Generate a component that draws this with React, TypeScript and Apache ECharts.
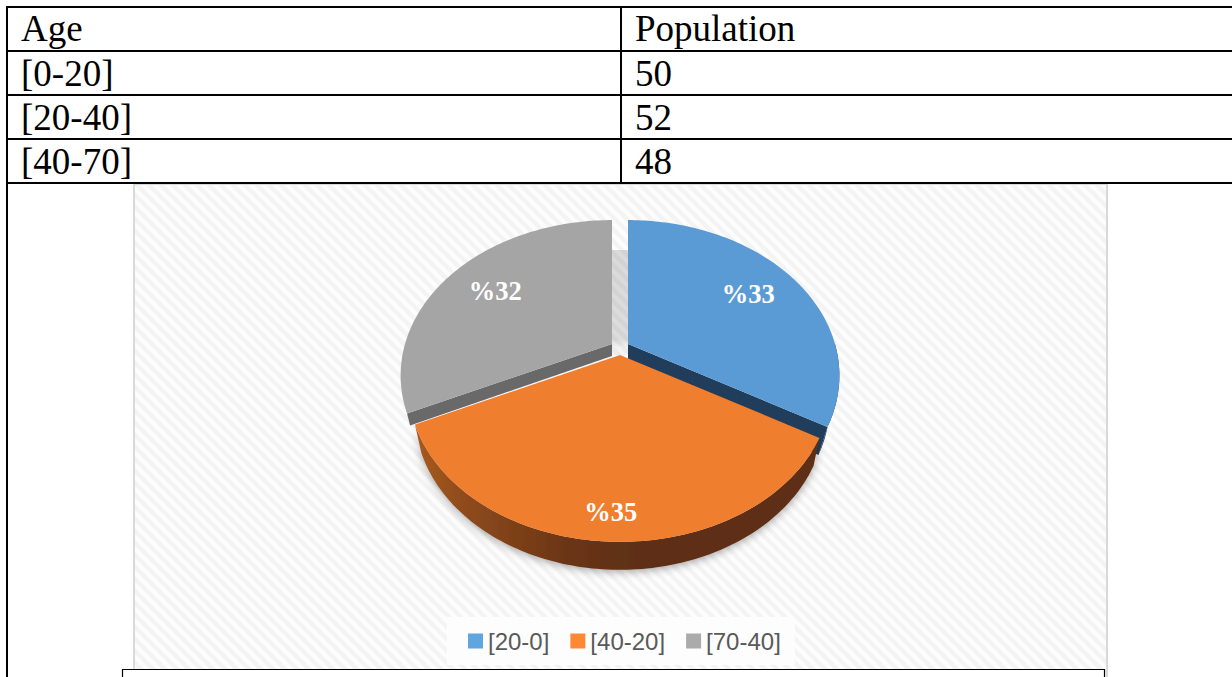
import React, { useEffect, useRef } from "react";
import * as echarts from "echarts";

const tableHeader = ["Age", "Population"];
const tableAges = ["[0-20]", "[20-40]", "[40-70]"];
const populations = [50, 52, 48];
const legendNames = ["[20-0]", "[40-20]", "[70-40]"];
const percentLabels = ["%33", "%35", "%32"];
const faceColors = ["#5b9bd5", "#f07e2f", "#a5a5a5"];
const legendColors = ["#5fa5e0", "#ff8833", "#ababab"];
const cutColors = ["#203e5b", "#5e2f12", "#696969"];
const apexes = [[628, 344], [620, 355], [612, 344]];
const labelRadii = [0.72, 0.87, 0.72];
const depths = [28, 28, 12];
const baseScales = [0.955, 0.97, 0.985];

const RX = 207, RY = 149, TILT = 0.2026;
const total = populations.reduce((a, b) => a + b, 0);
const startAngles = populations.map((_, i) =>
  (populations.slice(0, i).reduce((a, b) => a + b, 0) / total) * Math.PI * 2);

function top(i: number, theta: number, t = 1): number[] {
  const u = Math.sin(theta), v = -Math.cos(theta), w = 1 - TILT * t * v;
  return [apexes[i][0] + (RX * t * u) / w, apexes[i][1] + (RY * t * v) / w];
}
function base(i: number, p: number[]): number[] {
  return [apexes[i][0] + baseScales[i] * (p[0] - apexes[i][0]), p[1] + depths[i]];
}
function arc(i: number, a: number, b: number): number[][] {
  const n = Math.max(2, Math.ceil(Math.abs(b - a) / 0.02));
  const pts: number[][] = [];
  for (let k = 0; k <= n; k++) pts.push(top(i, a + ((b - a) * k) / n));
  return pts;
}

function sliceItem(i: number) {
  const a = startAngles[i];
  const b = a + (populations[i] / total) * Math.PI * 2;
  const apex = apexes[i];
  const face = [apex, ...arc(i, a, b)];
  const children: any[] = [];

  if (i === 2) {
    // soft shadow seen through the gap between the two rear slices
    children.push({
      type: "rect",
      shape: { x: apexes[2][0], y: apex[1] - 94, width: apexes[0][0] - apexes[2][0], height: 105 },
      style: {
        fill: new echarts.graphic.LinearGradient(0, 0, 0, 1, [
          { offset: 0, color: "rgba(0,0,0,0.14)" },
          { offset: 0.85, color: "rgba(0,0,0,0.13)" },
          { offset: 0.93, color: "rgba(0,0,0,0.04)" },
          { offset: 1, color: "rgba(0,0,0,0.04)" },
        ]),
      },
    });
  }
  if (i === 1) {
    const front = arc(i, a, b);
    children.push({
      type: "polygon",
      shape: { points: [...front, ...front.map((p) => base(i, p)).reverse()] },
      style: {
        fill: new echarts.graphic.LinearGradient(0, 0, 1, 0, [
          { offset: 0, color: "#a85a20" },
          { offset: 0.12, color: "#8f4b1c" },
          { offset: 0.38, color: "#6a3515" },
          { offset: 0.55, color: "#5e2f12" },
          { offset: 1, color: "#5e2f12" },
        ]),
        shadowBlur: 9,
        shadowColor: "rgba(0,0,0,0.35)",
        shadowOffsetY: 2,
      },
    });
  } else {
    const cut = i === 0 ? b : a;
    const tip = top(i, cut);
    children.push({
      type: "polygon",
      shape: { points: [apex, tip, base(i, tip), base(i, apex)] },
      style: { fill: cutColors[i] },
    });
    if (i === 0) {
      const outer = arc(i, Math.PI / 2, b);
      children.push({
        type: "polygon",
        shape: { points: [...outer, ...outer.map((p) => base(i, p)).reverse()] },
        style: { fill: cutColors[i] },
      });
    }
  }
  children.push({
    type: "polygon",
    shape: { points: face },
    style: { fill: faceColors[i] },
  });
  const mid = top(i, (a + b) / 2, labelRadii[i]);
  children.push({
    type: "text",
    style: {
      text: percentLabels[i],
      x: mid[0],
      y: mid[1],
      fill: "#ffffff",
      font: 'bold 26.5px "Liberation Serif"',
      align: "center",
      verticalAlign: "middle",
    },
    z2: 10,
  });
  return { type: "group", children };
}

function hatchTile() {
  const size = 12;
  const c = document.createElement("canvas");
  c.width = size;
  c.height = size;
  const g = c.getContext("2d")!;
  g.fillStyle = "#fdfdfd";
  g.fillRect(0, 0, size, size);
  g.strokeStyle = "#f4f4f4";
  g.lineWidth = 4.5;
  for (const d of [-size, 0, size]) {
    g.beginPath();
    g.moveTo(d - 2, -2);
    g.lineTo(d + size + 2, size + 2);
    g.stroke();
  }
  return c;
}

function tableGraphics() {
  const ink = { stroke: "#000000", lineWidth: 2 };
  const line = (x1: number, y1: number, x2: number, y2: number, style: any = ink) => ({
    type: "line", shape: { x1, y1, x2, y2 }, style,
  });
  const text = (t: string, x: number, baseline: number) => ({
    type: "text",
    style: { text: t, x, y: baseline - 31, fill: "#000000", font: '37px "Liberation Serif"', verticalAlign: "top" },
  });
  const rows = [7, 51, 95, 139, 183];
  const border = { stroke: "#d9d9d9", lineWidth: 2 };
  return [
    { type: "rect", shape: { x: 133, y: 184, width: 974, height: 493 }, style: { fill: { image: hatchTile(), repeat: "repeat" } } },
    line(134, 184, 134, 677, border),
    line(1107, 184, 1107, 677, border),
    line(133, 184.5, 1108, 184.5, { stroke: "#d9d9d9", lineWidth: 1 }),
    ...rows.map((y) => line(6, y, 1232, y)),
    line(7, 6, 7, 677),
    line(621, 6, 621, 184),
    text(tableHeader[0], 21, 41),
    text(tableHeader[1], 635, 41),
    ...tableAges.map((t, i) => text(t, 21, 86 + i * 44)),
    ...populations.map((v, i) => text(String(v), 635, 86 + i * 44)),
    { type: "rect", shape: { x: 122.5, y: 669.5, width: 982, height: 20 }, style: { fill: "#ffffff", stroke: "#000000", lineWidth: 1.2 }, z: 20 },
  ];
}

export default function App() {
  const ref = useRef<HTMLDivElement>(null);
  useEffect(() => {
    document.body.style.margin = "0";
    document.body.style.overflow = "hidden";
    const chart = echarts.init(ref.current!, null, { renderer: "svg" });
    chart.setOption({
      animation: false,
      backgroundColor: "#ffffff",
      graphic: { elements: tableGraphics() },
      legend: {
        left: 447,
        top: 617,
        padding: [12, 14, 12, 21],
        backgroundColor: "#fdfdfd",
        itemWidth: 15,
        itemHeight: 15,
        itemGap: 21,
        icon: "rect",
        selectedMode: false,
        textStyle: { fontFamily: "Liberation Sans", fontSize: 24, color: "#595959" },
        data: legendNames.map((name, i) => ({ name, itemStyle: { color: legendColors[i] } })),
      },
      // orange is painted last: it covers the cut faces of its neighbours
      series: [2, 0, 1].map((i, order) => ({
        type: "custom",
        name: legendNames[i],
        coordinateSystem: "none",
        z: 5 + order,
        silent: true,
        data: [populations[i]],
        itemStyle: { color: faceColors[i] },
        renderItem: () => sliceItem(i),
      })),
    });
    return () => chart.dispose();
  }, []);
  return <div ref={ref} style={{ width: 1232, height: 677 }} />;
}
